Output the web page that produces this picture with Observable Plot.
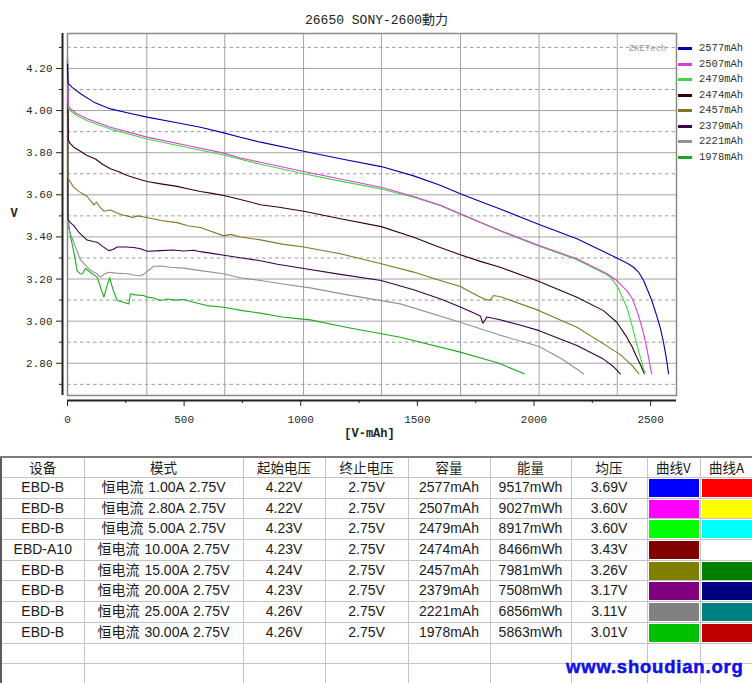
<!DOCTYPE html>
<html><head><meta charset="utf-8">
<script src="https://cdn.jsdelivr.net/npm/d3@7"></script>
<script src="https://cdn.jsdelivr.net/npm/@observablehq/plot@0.6"></script>
<style>
html,body{margin:0;padding:0;background:#fff;}
#wrap{position:relative;width:752px;height:683px;overflow:hidden;background:#fff;}
#chart svg{display:block;}
#legend{position:absolute;left:677px;top:41px;font-family:"Liberation Mono",monospace;font-size:10.5px;color:#333;}
.lr{position:absolute;left:0;width:75px;height:15px;white-space:nowrap;}
.sw{position:absolute;left:1px;top:6px;width:14px;height:3px;}
.lt{position:absolute;left:22px;top:0;line-height:15px;}
#tbl{position:absolute;left:0;top:456px;border-collapse:collapse;table-layout:fixed;width:752px;
 font-family:"Liberation Sans","Noto Sans CJK SC",sans-serif;font-size:14px;color:#1a1a1a;
 border-top:2px solid #7c7c7c;border-left:2px solid #5c5c5c;}
#tbl td,#tbl th{border:1px solid #c4c4c4;text-align:center;padding:0;overflow:hidden;white-space:nowrap;font-weight:normal;vertical-align:top;}
#tbl .in{height:19.7px;line-height:19.7px;overflow:hidden;white-space:pre;word-spacing:1px;}
#tbl th .in{height:19px;line-height:19px;font-family:"Noto Sans CJK SC",sans-serif;font-size:13.5px;}
#tbl .sq{height:18px;margin:1px 1px 0 1px;}
#wm{position:absolute;left:566px;top:656px;font-family:"Liberation Sans",sans-serif;font-weight:bold;font-size:18.5px;letter-spacing:0.8px;color:#1010e4;-webkit-text-stroke:0.5px #1010e4;text-shadow:0 0 2px #fff;}
</style></head>
<body>
<div id="wrap">
  <div id="chart"></div>
  <div id="legend"></div>
  <table id="tbl"></table>
  <div id="wm">www.shoudian.org</div>
</div>
<script>
// ---------- chart data ----------
const title = "26650 SONY-2600動力";
const names = ["2577mAh","2507mAh","2479mAh","2474mAh","2457mAh","2379mAh","2221mAh","1978mAh"];
const colors = ["#0000a8","#d840d8","#40d840","#34000e","#847428","#3c0048","#929292","#20a820"];

const s2577 = [[0,4.22],[2,4.13],[20,4.11],[56,4.08],[113,4.04],[184,4.008],[256,3.99],[341,3.969],[470,3.942],[570,3.921],[670,3.894],[741,3.873],[827,3.85],[1013,3.807],[1170,3.771],[1345,3.734],[1484,3.69],[1598,3.645],[1684,3.605],[1770,3.568],[1855,3.533],[2022,3.459],[2184,3.391],[2300,3.33],[2355,3.30],[2400,3.275],[2427,3.256],[2450,3.23],[2470,3.193],[2490,3.14],[2505,3.098],[2525,3.03],[2541,2.97],[2555,2.90],[2565,2.84],[2572,2.79],[2577,2.75]];
const s2507 = [[0,4.22],[2,4.14],[4,4.02],[13,4.008],[40,3.985],[84,3.961],[184,3.921],[341,3.874],[513,3.834],[670,3.798],[741,3.775],[827,3.755],[1013,3.711],[1170,3.675],[1345,3.636],[1484,3.592],[1600,3.55],[1684,3.51],[1770,3.47],[1855,3.43],[2022,3.359],[2184,3.296],[2313,3.225],[2355,3.193],[2398,3.145],[2420,3.11],[2441,3.05],[2458,2.99],[2470,2.94],[2482,2.88],[2491,2.828],[2499,2.78],[2505,2.75]];
const s2479 = [[0,4.23],[2,4.05],[4,4.01],[13,3.998],[40,3.976],[84,3.952],[184,3.912],[341,3.865],[513,3.825],[670,3.789],[827,3.745],[1013,3.700],[1170,3.665],[1345,3.628],[1484,3.588],[1600,3.548],[1684,3.508],[1770,3.468],[1855,3.428],[2022,3.356],[2184,3.292],[2300,3.228],[2327,3.21],[2360,3.16],[2398,3.066],[2420,2.98],[2441,2.89],[2458,2.82],[2470,2.775],[2476,2.75]];
const s2474 = [[0,4.23],[2,4.03],[4,3.86],[10,3.845],[27,3.826],[50,3.81],[84,3.787],[120,3.77],[150,3.745],[184,3.724],[220,3.71],[256,3.692],[300,3.676],[341,3.663],[400,3.652],[470,3.64],[520,3.628],[570,3.616],[620,3.607],[670,3.597],[741,3.578],[827,3.553],[900,3.542],[1013,3.522],[1170,3.486],[1345,3.449],[1484,3.398],[1598,3.35],[1684,3.315],[1770,3.284],[1855,3.256],[2022,3.188],[2184,3.114],[2298,3.05],[2355,2.995],[2398,2.924],[2420,2.88],[2441,2.829],[2460,2.785],[2473,2.75]];
const s2457 = [[0,4.24],[2,3.68],[10,3.665],[27,3.635],[50,3.615],[84,3.592],[100,3.57],[113,3.552],[125,3.565],[140,3.54],[156,3.522],[184,3.528],[210,3.515],[240,3.503],[256,3.50],[280,3.492],[300,3.50],[341,3.492],[400,3.478],[470,3.468],[520,3.452],[570,3.445],[620,3.425],[670,3.405],[700,3.412],[741,3.40],[827,3.386],[920,3.366],[1013,3.352],[1170,3.32],[1345,3.273],[1484,3.233],[1598,3.193],[1684,3.165],[1760,3.12],[1798,3.101],[1812,3.10],[1827,3.122],[1860,3.115],[2022,3.05],[2184,2.971],[2298,2.892],[2370,2.841],[2420,2.79],[2450,2.75]];
const s2379 = [[0,4.23],[2,3.486],[10,3.47],[27,3.454],[50,3.42],[84,3.385],[110,3.378],[127,3.375],[150,3.355],[177,3.335],[195,3.34],[213,3.352],[250,3.352],[284,3.35],[313,3.344],[341,3.332],[400,3.335],[450,3.338],[498,3.333],[541,3.337],[570,3.33],[620,3.322],[670,3.313],[741,3.301],[827,3.287],[900,3.27],[1013,3.25],[1170,3.222],[1345,3.193],[1484,3.149],[1600,3.105],[1684,3.067],[1740,3.04],[1770,3.025],[1781,2.99],[1790,3.005],[1798,3.02],[1850,3.008],[1940,2.982],[2022,2.955],[2184,2.884],[2298,2.82],[2340,2.785],[2370,2.75]];
const s2221 = [[0,4.26],[2,3.45],[13,3.414],[35,3.35],[56,3.29],[70,3.275],[90,3.25],[113,3.232],[127,3.225],[141,3.209],[160,3.225],[177,3.232],[210,3.228],[256,3.225],[290,3.218],[313,3.216],[330,3.225],[341,3.235],[356,3.249],[370,3.261],[400,3.262],[441,3.256],[498,3.252],[570,3.24],[670,3.225],[741,3.206],[827,3.193],[930,3.175],[1041,3.158],[1200,3.125],[1427,3.082],[1684,2.995],[1850,2.935],[2022,2.88],[2120,2.82],[2180,2.775],[2212,2.75]];
const s1978 = [[0,4.26],[2,3.49],[8,3.44],[13,3.40],[27,3.33],[41,3.24],[55,3.225],[63,3.224],[77,3.25],[100,3.23],[127,3.209],[142,3.16],[156,3.114],[170,3.17],[181,3.206],[195,3.15],[213,3.098],[240,3.09],[263,3.082],[270,3.13],[290,3.125],[327,3.122],[341,3.114],[370,3.11],[398,3.098],[430,3.105],[460,3.10],[498,3.103],[540,3.09],[598,3.074],[670,3.066],[750,3.05],[827,3.038],[920,3.02],[998,3.011],[1041,3.006],[1200,2.97],[1427,2.924],[1684,2.853],[1850,2.80],[1958,2.75]];
const seriesData = [s2577, s2507, s2479, s2474, s2457, s2379, s2221, s1978];

// axes / grid
const xDomain = [0, 2611];
const yDomain = [2.647, 4.366];
const xMajor = [0, 500, 1000, 1500, 2000, 2500];
const xMinor = [250, 750, 1250, 1750, 2250];
const yMajor = [2.8, 3.0, 3.2, 3.4, 3.6, 3.8, 4.0, 4.2];
const yMinor = [2.7, 2.9, 3.1, 3.3, 3.5, 3.7, 3.9, 4.1, 4.3];
const gridX = [340, 674, 1012, 1346, 1685, 2022, 2357];

// ---------- table data ----------
const headers = ["设备","模式","起始电压","终止电压","容量","能量","均压","曲线V","曲线A"];
const devices = ["EBD-B","EBD-B","EBD-B","EBD-A10","EBD-B","EBD-B","EBD-B","EBD-B"];
const modes = ["恒电流 1.00A 2.75V","恒电流 2.80A 2.75V","恒电流 5.00A 2.75V","恒电流 10.00A 2.75V","恒电流 15.00A 2.75V","恒电流 20.00A 2.75V","恒电流 25.00A 2.75V","恒电流 30.00A 2.75V"];
const startV = ["4.22V","4.22V","4.23V","4.23V","4.24V","4.23V","4.26V","4.26V"];
const endV = ["2.75V","2.75V","2.75V","2.75V","2.75V","2.75V","2.75V","2.75V"];
const capacity = ["2577mAh","2507mAh","2479mAh","2474mAh","2457mAh","2379mAh","2221mAh","1978mAh"];
const energy = ["9517mWh","9027mWh","8917mWh","8466mWh","7981mWh","7508mWh","6856mWh","5863mWh"];
const avgV = ["3.69V","3.60V","3.60V","3.43V","3.26V","3.17V","3.11V","3.01V"];
const curveV = ["#0000ff","#ff00ff","#00ff00","#800000","#808000","#800080","#808080","#00c000"];
const curveA = ["#ff0000","#ffff00","#00ffff","#ffffff","#008000","#000080","#008080","#c00000"];
const colWidths = [83,159,82,83,82,81,76,53,53];

// ---------- chart ----------
const lineMarks = [];
for (let i = seriesData.length - 1; i >= 0; i--) {
  lineMarks.push(Plot.line(seriesData[i], {x: d => d[0], y: d => d[1], stroke: colors[i], strokeWidth: 1.1}));
}
const mono = "Liberation Mono, DejaVu Sans Mono, monospace";
const chart = Plot.plot({
  width: 752, height: 455,
  marginLeft: 62, marginRight: 76, marginTop: 33, marginBottom: 55,
  x: {domain: xDomain, insetLeft: 5},
  y: {domain: yDomain, insetBottom: 5},
  style: {fontFamily: mono, fontSize: "11px", color: "#2a2a2a", background: "#fff", overflow: "visible"},
  marks: [
    Plot.ruleY(yMinor, {stroke: "#9c9c9c", strokeDasharray: "3.5,3", insetLeft: 5}),
    Plot.ruleY(yMajor, {stroke: "#a4a4a4", insetLeft: 5}),
    Plot.ruleX(gridX, {stroke: "#a4a4a4", insetBottom: 5}),
    Plot.frame({stroke: "#8a8a8a", strokeWidth: 1.5, insetLeft: 5, insetBottom: 5}),
    Plot.text(["ZKETech"], {frameAnchor: "top-right", dx: -10, dy: 11, fill: "#9a9a9a", fontSize: 9, fontFamily: mono, textAnchor: "end"}),
    ...lineMarks,
    Plot.ruleX([xDomain[0]], {dx: -5, stroke: "#222", strokeWidth: 2, insetBottom: 5}),
    Plot.ruleY([yDomain[0]], {dy: 5, stroke: "#222", strokeWidth: 2, insetLeft: 5}),
    Plot.axisY(yMajor, {tickSize: 6, tickPadding: 4, tickFormat: d3.format(".2f"), label: null, stroke: "#222"}),
    Plot.axisY(yMinor, {tickSize: 3, tickFormat: () => "", label: null, stroke: "#222"}),
    Plot.axisX(xMajor, {tickSize: 6, tickPadding: 9, tickFormat: d => String(d), label: null, stroke: "#222"}),
    Plot.axisX(xMinor, {tickSize: 3, tickFormat: () => "", label: null, stroke: "#222"}),
    Plot.text(["V"], {frameAnchor: "left", dx: -52, dy: -4, fontWeight: "bold", fontSize: 12, fontFamily: mono, fill: "#222"}),
    Plot.text(["[V-mAh]"], {frameAnchor: "bottom", dy: 36, fontWeight: "bold", fontSize: 12, fontFamily: mono, fill: "#222"}),
    Plot.text([title], {frameAnchor: "top", dy: -19, dx: 7, fontSize: 13, fontFamily: "Liberation Mono, Noto Sans CJK TC, monospace", fill: "#222"})
  ]
});
document.getElementById("chart").appendChild(chart);

// ---------- legend ----------
const leg = document.getElementById("legend");
names.forEach((n, i) => {
  const r = document.createElement("div");
  r.className = "lr";
  r.style.top = (i * 15.5) + "px";
  r.innerHTML = `<div class="sw" style="background:${colors[i]}"></div><div class="lt">${n}</div>`;
  leg.appendChild(r);
});

// ---------- table ----------
const tbl = document.getElementById("tbl");
const cg = document.createElement("colgroup");
colWidths.forEach(w => { const c = document.createElement("col"); c.style.width = w + "px"; cg.appendChild(c); });
tbl.appendChild(cg);
function cell(tag, html) {
  const el = document.createElement(tag);
  const d = document.createElement("div");
  d.className = "in";
  d.innerHTML = html;
  el.appendChild(d);
  return el;
}
const hr = document.createElement("tr");
headers.forEach(h => hr.appendChild(cell("th", h)));
tbl.appendChild(hr);
for (let i = 0; i < devices.length; i++) {
  const tr = document.createElement("tr");
  [devices[i], modes[i], startV[i], endV[i], capacity[i], energy[i], avgV[i]].forEach(v => tr.appendChild(cell("td", v)));
  [curveV[i], curveA[i]].forEach(c => tr.appendChild(cell("td", `<div class="sq" style="background:${c}"></div>`)));
  tbl.appendChild(tr);
}
for (let k = 0; k < 2; k++) {
  const tr = document.createElement("tr");
  headers.forEach(() => tr.appendChild(cell("td", "&nbsp;")));
  tbl.appendChild(tr);
}
</script>
</body></html>
